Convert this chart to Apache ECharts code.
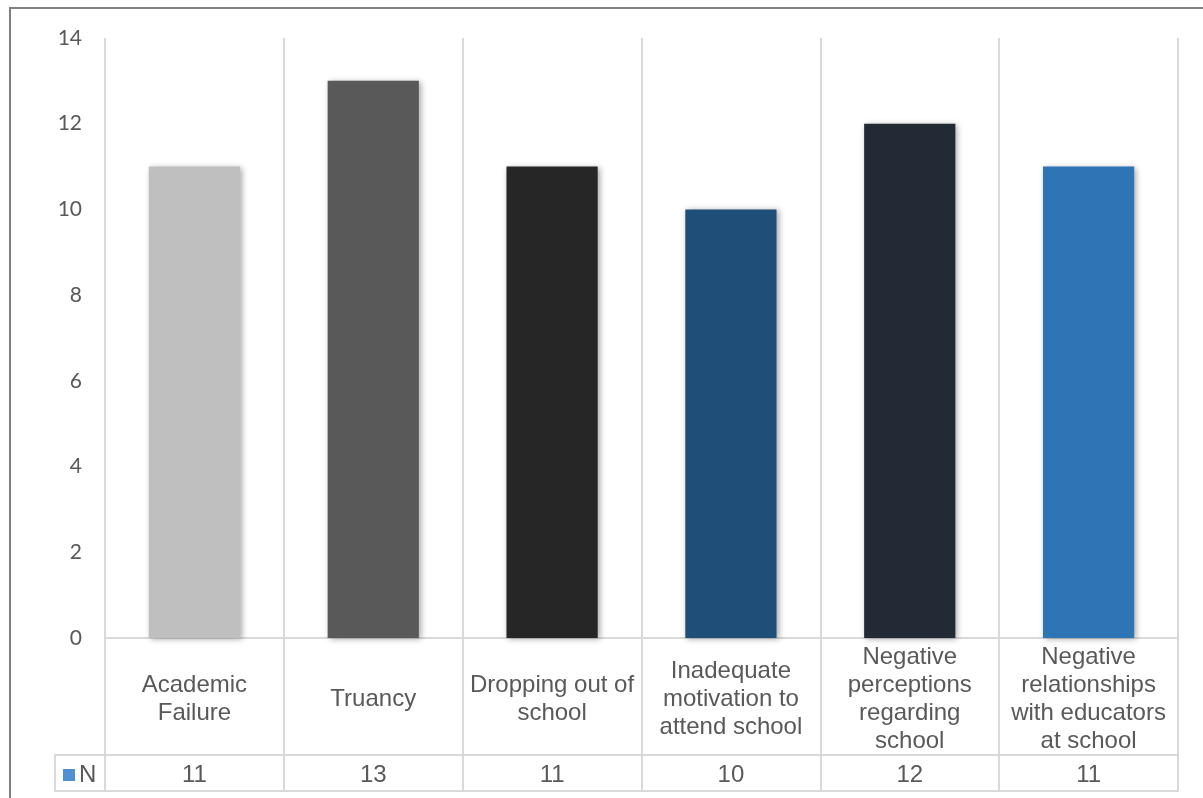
<!DOCTYPE html>
<html>
<head>
<meta charset="utf-8">
<script src="https://cdn.jsdelivr.net/npm/echarts@6/dist/echarts.min.js"></script>
<style>
  html, body { margin: 0; padding: 0; background: #ffffff; }
  #chart { width: 1203px; height: 798px; }
</style>
</head>
<body>
<div id="chart"></div>
<script>
// Category labels (line breaks as wrapped in the table row)
const categories = [
  'Academic\nFailure',
  'Truancy',
  'Dropping out of\nschool',
  'Inadequate\nmotivation to\nattend school',
  'Negative\nperceptions\nregarding\nschool',
  'Negative\nrelationships\nwith educators\nat school'
];
// Count of responses per factor
const values = [11, 13, 11, 10, 12, 11];
// Fill colour for each bar
const barColors = ['#bfbfbf', '#595959', '#262626', '#1f4e79', '#222a35', '#2e75b6'];
const seriesName = 'N';
const yTicks = { min: 0, max: 14, interval: 2 };

const gridColor = '#d9d9d9';
const textColor = '#595959';
const tableFont = '"Liberation Sans", Arial, sans-serif';

const chart = echarts.init(document.getElementById('chart'), null, { renderer: 'canvas' });

chart.setOption({
  animation: false,
  backgroundColor: '#ffffff',
  grid: { left: 105, right: 25, top: 38, bottom: 160, containLabel: false },
  legend: {
    data: [{ name: seriesName, itemStyle: { color: '#4f8fd3' } }],
    left: 63,
    top: 763,
    padding: 0,
    icon: 'rect',
    itemWidth: 12,
    itemHeight: 12,
    itemGap: 4,
    textStyle: { fontFamily: tableFont, fontSize: 24, color: textColor, padding: [0, 0, 0, -1] }
  },
  xAxis: [
    {
      // category row of the data table
      type: 'category',
      data: categories,
      position: 'bottom',
      axisLine: { show: true, lineStyle: { color: gridColor, width: 2 } },
      axisTick: { show: true, length: 153, lineStyle: { color: gridColor, width: 2 } },
      splitLine: { show: true, lineStyle: { color: gridColor, width: 2 } },
      axisLabel: {
        interval: 0,
        margin: 61,
        verticalAlign: 'middle',
        align: 'center',
        fontFamily: tableFont,
        fontSize: 24,
        lineHeight: 28,
        color: textColor
      }
    },
    {
      // value row of the data table
      type: 'category',
      data: categories,
      position: 'bottom',
      offset: 117,
      axisLine: { show: true, lineStyle: { color: gridColor, width: 2 } },
      axisTick: { show: false },
      splitLine: { show: false },
      axisLabel: {
        interval: 0,
        margin: 20,
        verticalAlign: 'middle',
        fontFamily: tableFont,
        fontSize: 24,
        color: textColor,
        formatter: (v, i) => String(values[i])
      }
    },
    {
      // bottom edge of the data table
      type: 'category',
      data: categories,
      position: 'bottom',
      offset: 153,
      axisLine: { show: true, lineStyle: { color: gridColor, width: 2 } },
      axisTick: { show: false },
      axisLabel: { show: false },
      splitLine: { show: false }
    }
  ],
  yAxis: {
    type: 'value',
    min: yTicks.min,
    max: yTicks.max,
    interval: yTicks.interval,
    axisLine: { show: false },
    axisTick: { show: false },
    splitLine: { show: false },
    axisLabel: {
      margin: 23,
      fontFamily: 'Lato, "Open Sans", sans-serif',
      fontSize: 21,
      color: textColor
    }
  },
  series: [
    {
      name: seriesName,
      type: 'bar',
      xAxisIndex: 0,
      barWidth: '51%',
      itemStyle: {
        color: '#4f8fd3',
        shadowBlur: 6,
        shadowColor: 'rgba(0,0,0,0.35)',
        shadowOffsetX: 2,
        shadowOffsetY: 1
      },
      data: values.map((v, i) => ({ value: v, itemStyle: { color: barColors[i] } }))
    }
  ],
  graphic: [
    {
      // chart frame
      type: 'rect',
      silent: true,
      shape: { x: 10, y: 8, width: 1300, height: 900 },
      style: { fill: 'none', stroke: '#808080', lineWidth: 2 }
    },
    {
      // legend cell of the data table
      type: 'polyline',
      silent: true,
      shape: { points: [[105, 755], [55, 755], [55, 791], [105, 791]] },
      style: { fill: 'none', stroke: gridColor, lineWidth: 2 }
    }
  ]
});
</script>
</body>
</html>
